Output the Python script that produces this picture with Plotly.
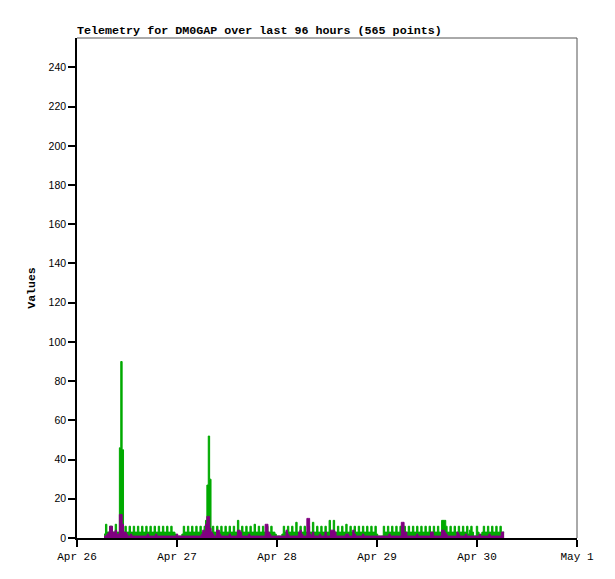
import plotly.graph_objects as go
import pandas as pd

# telemetry samples, one every 20 minutes starting Apr 26 06:30
start_time = "2024-04-26 06:30"
sample_step = "20min"

# green channel (rows of 24 samples = 8 hours)
green_values = [
    2, 7, 3, 3, 6, 6, 3, 3, 7, 3, 3, 46, 90, 45, 3, 6, 3, 3, 6, 3, 3, 6, 3, 3,
    6, 3, 3, 6, 3, 3, 6, 3, 3, 6, 3, 3, 6, 3, 3, 6, 3, 3, 6, 3, 3, 6, 3, 3,
    6, 3, 3, 2, 1, 1, 1, 1, 2, 6, 3, 3, 6, 3, 3, 6, 3, 3, 6, 3, 3, 6, 3, 3,
    6, 9, 27, 52, 30, 3, 6, 3, 3, 6, 3, 3, 6, 3, 3, 6, 3, 3, 6, 3, 3, 6, 3, 3,
    9, 3, 3, 6, 3, 3, 6, 3, 3, 6, 3, 3, 7, 3, 3, 6, 3, 3, 6, 3, 3, 6, 3, 3,
    6, 3, 3, 2, 1, 1, 1, 1, 2, 6, 3, 3, 6, 3, 3, 6, 3, 3, 8, 3, 3, 6, 3, 3,
    6, 3, 3, 6, 3, 3, 8, 3, 3, 6, 3, 3, 6, 3, 3, 6, 3, 3, 9, 3, 3, 9, 3, 3,
    6, 3, 3, 6, 3, 3, 7, 3, 3, 6, 3, 3, 6, 3, 3, 6, 3, 3, 6, 3, 3, 6, 3, 3,
    6, 3, 3, 6, 2, 1, 1, 1, 1, 6, 3, 3, 6, 3, 3, 6, 3, 3, 6, 3, 3, 6, 3, 3,
    6, 3, 3, 6, 3, 3, 6, 3, 3, 6, 3, 3, 6, 3, 3, 6, 3, 3, 6, 3, 3, 6, 3, 3,
    6, 3, 3, 9, 9, 9, 6, 3, 3, 6, 3, 3, 6, 3, 3, 6, 3, 3, 6, 3, 3, 6, 2, 4,
    6, 3, 1, 1, 6, 3, 1, 2, 3, 6, 3, 3, 6, 3, 3, 6, 3, 3, 6, 3, 3, 6, 3, 3,
    3,
]

# purple channel
purple_values = [
    1, 1, 2, 3, 6, 6, 3, 3, 4, 2, 2, 12, 12, 7, 3, 3, 2, 1, 1, 2, 1, 1, 1, 1,
    1, 1, 1, 1, 1, 1, 1, 2, 1, 1, 1, 1, 1, 2, 1, 1, 1, 1, 1, 1, 1, 1, 1, 1,
    1, 1, 1, 1, 2, 1, 1, 1, 1, 1, 1, 1, 1, 1, 1, 1, 1, 1, 1, 1, 1, 1, 2, 4,
    3, 7, 11, 11, 5, 3, 2, 1, 1, 4, 4, 2, 1, 1, 1, 1, 1, 1, 2, 1, 1, 1, 1, 1,
    4, 4, 3, 1, 1, 1, 1, 1, 2, 1, 1, 1, 1, 1, 1, 1, 1, 1, 1, 1, 7, 7, 3, 2,
    1, 1, 1, 1, 1, 1, 1, 1, 1, 1, 1, 4, 2, 1, 1, 1, 1, 1, 1, 1, 3, 4, 2, 1,
    1, 1, 10, 10, 2, 1, 3, 1, 1, 1, 1, 2, 1, 1, 1, 3, 1, 1, 1, 4, 4, 4, 3, 1,
    1, 1, 1, 1, 1, 1, 2, 2, 1, 1, 1, 4, 2, 1, 1, 1, 1, 1, 2, 1, 1, 1, 1, 1,
    1, 1, 1, 1, 1, 1, 1, 1, 1, 1, 1, 1, 1, 2, 1, 1, 1, 1, 1, 1, 1, 1, 8, 8,
    3, 3, 1, 1, 1, 1, 1, 1, 1, 2, 1, 1, 1, 1, 1, 1, 1, 1, 1, 3, 3, 1, 1, 1,
    1, 1, 1, 4, 4, 3, 2, 1, 1, 1, 1, 1, 1, 1, 3, 2, 1, 1, 1, 1, 2, 1, 1, 1,
    1, 1, 1, 1, 1, 1, 2, 1, 1, 1, 1, 1, 1, 2, 1, 1, 1, 1, 1, 1, 1, 1, 3, 3,
    3,
]

day_ticks = ["2024-04-26", "2024-04-27", "2024-04-28", "2024-04-29", "2024-04-30", "2024-05-01"]
day_labels = ["Apr 26", "Apr 27", "Apr 28", "Apr 29", "Apr 30", "May 1"]
y_ticks = list(range(0, 241, 20))

times = pd.date_range(start_time, periods=len(green_values), freq=sample_step)

fig = go.Figure()

fig.add_trace(go.Scatter(x=times, y=green_values, mode='lines', line_shape='hv',
                         line=dict(color='#00aa00', width=1),
                         fill='tozeroy', fillcolor='#00aa00', showlegend=False))

fig.add_trace(go.Scatter(x=times, y=purple_values, mode='lines', line_shape='hv',
                         line=dict(color='#800080', width=1),
                         fill='tozeroy', fillcolor='#800080', showlegend=False))

# the page body adds 8px around the figure, so the figure is 8px smaller
fig.update_layout(
    width=607, height=571,
    margin=dict(l=69, r=38, t=30, b=41),
    paper_bgcolor='white', plot_bgcolor='white',
    title=dict(text='<b>Telemetry for DM0GAP over last 96 hours (565 points)</b>',
               x=0, xanchor='left', xref='paper',
               y=1 - 26 / 571, yanchor='bottom', yref='container',
               font=dict(family='Liberation Mono', size=11.7, color='black')),
)

fig.update_xaxes(
    range=[day_ticks[0], day_ticks[-1]],
    tickvals=day_ticks, ticktext=day_labels,
    showgrid=False, zeroline=False,
    showline=True, linecolor='black', linewidth=1.5,
    ticks='outside', ticklen=7, tickcolor='black', tickwidth=1.5,
    tickfont=dict(family='Liberation Mono', size=11, color='black'),
)

fig.update_yaxes(
    range=[0, 255], tickvals=y_ticks,
    showgrid=False, zeroline=False,
    showline=True, linecolor='black', linewidth=1.5,
    ticks='outside', ticklen=7, tickcolor='black', tickwidth=1.5,
    tickfont=dict(family='Liberation Sans', size=10.5, color='black'),
    title=dict(text='<b>Values</b>', standoff=11,
               font=dict(family='Liberation Mono', size=11.5, color='black')),
)

# grey frame on top and right
fig.add_shape(type='line', xref='paper', yref='paper', x0=0, x1=1, y0=1, y1=1,
              line=dict(color='#555555', width=1))
fig.add_shape(type='line', xref='paper', yref='paper', x0=1, x1=1, y0=0, y1=1,
              line=dict(color='#555555', width=1))

fig.write_html("out.html")
